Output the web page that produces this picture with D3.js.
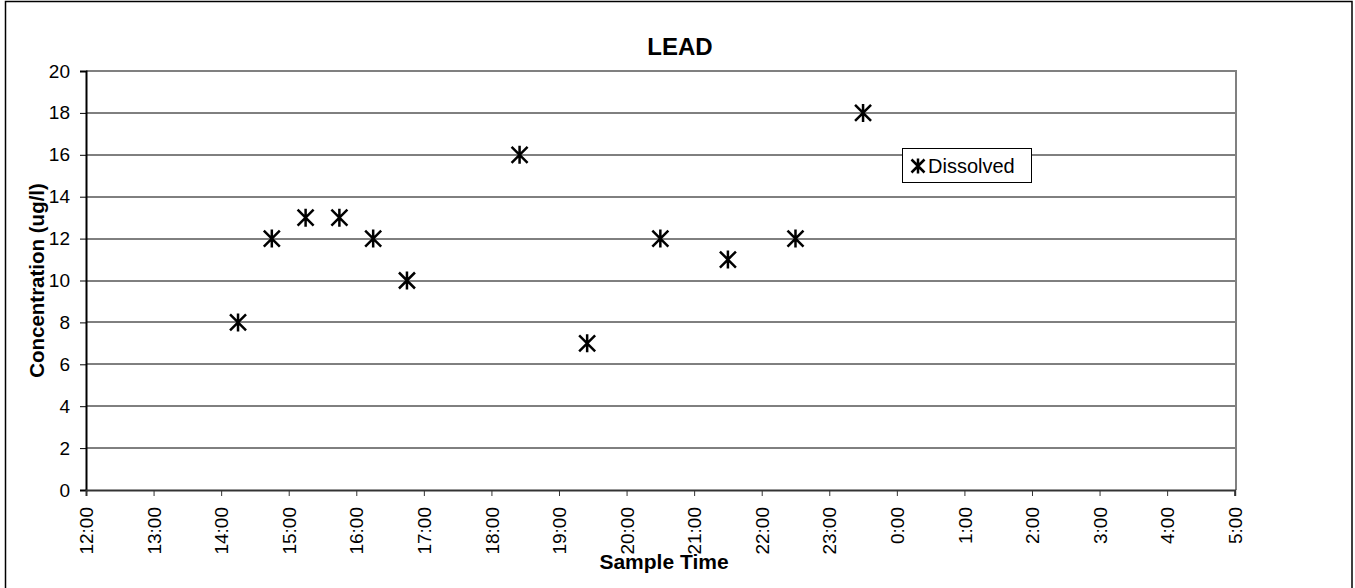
<!DOCTYPE html>
<html><head><meta charset="utf-8">
<script src="https://cdn.jsdelivr.net/npm/d3@7"></script>
<style>
html,body{margin:0;padding:0;background:#fff;}
svg{display:block;font-family:Arial,"Liberation Sans",sans-serif;}
</style></head>
<body>
<svg id="chart" width="1355" height="588"></svg>
<script>
const sampleTimes = ["14:15","14:45","15:15","15:45","16:15","16:45","18:25","19:25","20:30","21:30","22:30","23:30"];
const dissolved   = [8, 12, 13, 13, 12, 10, 16, 7, 12, 11, 12, 18];
const xTickLabels = ["12:00","13:00","14:00","15:00","16:00","17:00","18:00","19:00","20:00","21:00","22:00","23:00","0:00","1:00","2:00","3:00","4:00","5:00"];
const yTicks      = [0,2,4,6,8,10,12,14,16,18,20];
const title = "LEAD", xTitle = "Sample Time", yTitle = "Concentration (ug/l)", seriesName = "Dissolved";

function toDate(s){
  const [h,m] = s.split(":").map(Number);
  return new Date(2000, 0, h < 12 ? 2 : 1, h, m);
}

const svg = d3.select("#chart");
const L = 86, R = 1234.7, T = 71, B = 490;
const x = d3.scaleTime().domain([toDate("12:00"), toDate("5:00")]).range([L, R]);
const y = d3.scaleLinear().domain([0, 20]).range([B, T]);

// outer border
svg.append("rect").attr("x",5.5).attr("y",1.5).attr("width",1346.5).attr("height",590)
  .attr("fill","none").attr("stroke","#000").attr("stroke-width",1.5);

// gridlines
svg.append("g").selectAll("line").data(yTicks.filter(d=>d>0 && d<20)).join("line")
  .attr("x1",L).attr("x2",1236).attr("y1",d=>Math.round(y(d))).attr("y2",d=>Math.round(y(d)))
  .attr("stroke","#000").attr("stroke-width",1);

// plot border top/right (gray)
svg.append("path").attr("d",`M${L},${y(20)}H1236V${B}`).attr("fill","none")
  .attr("stroke","#808080").attr("stroke-width",2);

// y axis
const yAxis = d3.axisLeft(y).tickValues(yTicks).tickSize(6).tickPadding(10).tickFormat(d3.format("d"));
const gy = svg.append("g").attr("transform",`translate(${L},0)`).call(yAxis);
gy.select(".domain").attr("stroke","#000").attr("stroke-width",2);
gy.selectAll(".tick line").attr("stroke","#000");
gy.selectAll("text").attr("font-size",19).attr("font-family","Arial, Liberation Sans").attr("fill","#000");

// x axis
const xTickDates = xTickLabels.map(toDate);
const xAxis = d3.axisBottom(x).tickValues(xTickDates).tickSize(6)
  .tickFormat((d,i)=>xTickLabels[i]);
const gx = svg.append("g").attr("transform",`translate(0,${B})`).call(xAxis);
gx.select(".domain").attr("stroke","#333").attr("stroke-width",2);
gx.selectAll(".tick line").attr("stroke","#333");
gx.selectAll("text")
  .attr("font-size",19).attr("font-family","Arial, Liberation Sans").attr("fill","#000")
  .attr("text-anchor","end").attr("transform","rotate(-90)")
  .attr("x",-17).attr("y",0).attr("dy","0.35em");

// star marker path
function star(s){ return `M${-s},${-s}L${s},${s}M${-s},${s}L${s},${-s}M0,${-s-1}L0,${s+1}`; }

// points
svg.append("g").selectAll("path").data(sampleTimes.map((t,i)=>({t:toDate(t), v:dissolved[i]}))).join("path")
  .attr("transform",d=>`translate(${x(d.t)},${y(d.v)})`)
  .attr("d",star(8)).attr("stroke","#000").attr("stroke-width",2.5).attr("fill","none");

// title
svg.append("text").attr("x",680).attr("y",55).attr("text-anchor","middle")
  .attr("font-size",24).attr("font-weight","bold").text(title);
svg.append("text").attr("x",664).attr("y",569).attr("text-anchor","middle")
  .attr("font-size",21).attr("font-weight","bold").text(xTitle);
svg.append("text").attr("transform",`translate(44,${(T+B)/2}) rotate(-90)`).attr("text-anchor","middle")
  .attr("font-size",20.5).attr("font-weight","bold").text(yTitle);

// legend
const lg = svg.append("g");
lg.append("rect").attr("x",902.5).attr("y",148.5).attr("width",129).attr("height",34)
  .attr("fill","#fff").attr("stroke","#000").attr("stroke-width",1);
lg.append("path").attr("transform","translate(918,166)").attr("d",star(6.5))
  .attr("stroke","#000").attr("stroke-width",2.5).attr("fill","none");
lg.append("text").attr("x",928).attr("y",173).attr("font-size",20).text(seriesName);
</script>
</body></html>
